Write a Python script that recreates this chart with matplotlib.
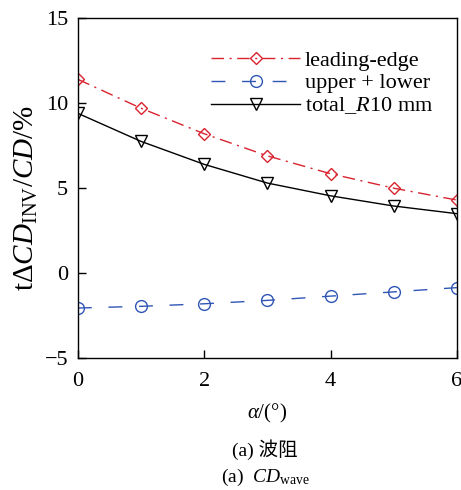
import numpy as np
import matplotlib.pyplot as plt

plt.rcParams['font.family'] = ['Liberation Serif', 'Noto Sans CJK SC']
plt.rcParams['mathtext.fontset'] = 'custom'
plt.rcParams['mathtext.rm'] = 'Liberation Serif'
plt.rcParams['mathtext.it'] = 'Liberation Serif:italic'

# data
alpha = [0, 1, 2, 3, 4, 5, 6]
leading = [11.4, 9.7, 8.2, 6.9, 5.85, 5.0, 4.3]
upper_lower = [-2.05, -1.95, -1.8, -1.6, -1.35, -1.1, -0.85]
total = [9.4, 7.75, 6.4, 5.3, 4.55, 3.95, 3.5]

red = '#d8232e'
blue = '#2f55b5'

fig = plt.figure(figsize=(4.61, 4.90), dpi=100)
ax = fig.add_axes([0.169, 0.269, 0.822, 0.694])

ax.plot(alpha, leading, color=red, lw=1, dashes=(9, 4, 1.5, 4), marker='D',
        ms=6.5, mfc='none', mec=red, mew=1, label='leading-edge')
ax.plot(alpha, upper_lower, color=blue, lw=1, dashes=(10, 12), marker='o',
        ms=8.5, mfc='none', mec=blue, mew=1, label='upper + lower')
ax.plot(alpha, total, color='black', lw=1, marker='v',
        ms=8.5, mfc='none', mec='black', mew=1, label=r'total_$\mathit{R}$10 mm')

ax.set_xlim(0, 6)
ax.set_ylim(-5, 15)
ax.set_xticks([0, 2, 4, 6])
ax.set_yticks([-5, 0, 5, 10, 15])
ax.set_yticklabels(['\u22125', '0', '5', '10', '15'])
ax.tick_params(direction='in', length=6, labelsize=16, width=1, pad=7)
ax.tick_params(axis='x', pad=10)
for s in ax.spines.values():
    s.set_linewidth(1)

ax.set_xlabel(r'$\mathit{\alpha}$/(°)', fontsize=15, labelpad=8)
ax.set_ylabel(r't$\Delta\mathit{CD}_{\mathrm{INV}}/\mathit{CD}$/%', fontsize=21)
ax.yaxis.set_label_coords(-0.10, 0.47)

ax.legend(loc='upper right', bbox_to_anchor=(0.99, 0.965), frameon=False,
          fontsize=16, handlelength=4.0, handletextpad=0.2, labelspacing=0.1)

fig.text(0.575, 0.082, '(a) 波阻', ha='center', va='center', fontsize=14,
         family=['Liberation Serif', 'Noto Sans CJK SC'])
fig.text(0.575, 0.026, r'(a)  $\mathit{CD}_{\mathrm{wave}}$', ha='center', va='center', fontsize=14)

fig.savefig('out.png', dpi=100)
